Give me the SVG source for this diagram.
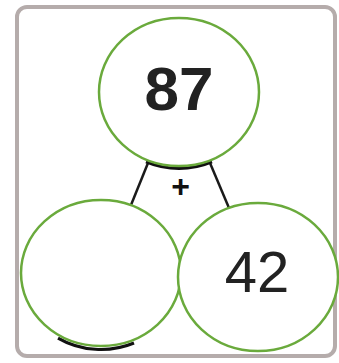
<svg xmlns="http://www.w3.org/2000/svg" width="339" height="363" viewBox="0 0 339 363">
<style>
.node{fill:#fff;stroke:#6aaa3c;stroke-width:2.5}
.shadow{fill:none;stroke:#111;stroke-width:3}
.conn{stroke:#1a1a1a;stroke-width:2.5;fill:none}
.num{font-family:"Liberation Sans",Arial,sans-serif;fill:#222;text-anchor:middle}
</style>
<rect x="0" y="0" width="339" height="363" fill="#fff"/>
<rect id="frame" x="17" y="7" width="318" height="349" rx="10" ry="10" fill="#fff" stroke="#b5acab" stroke-width="4"/>
<g id="connectors">
<line class="conn" x1="148" y1="163" x2="131" y2="205"/>
<line class="conn" x1="210" y1="163" x2="229" y2="208"/>
<path class="shadow" d="M146,161.9 A80,74 0 0 0 212,161.9"/>
<path class="shadow" d="M58,338.1 A80,73 0 0 0 134,343"/>
<text x="180.5" y="197" font-family="Liberation Sans,Arial,sans-serif" font-weight="bold" font-size="32" fill="#111" text-anchor="middle">+</text>
</g>
<g id="node-top">
<ellipse class="node" cx="179" cy="92" rx="80" ry="74"/>
<text class="num" x="179" y="110" font-size="62" font-weight="bold">87</text>
</g>
<g id="node-left">
<ellipse class="node" cx="101" cy="273" rx="80" ry="73"/>
</g>
<g id="node-right">
<ellipse class="node" cx="258" cy="277" rx="80" ry="74"/>
<text class="num" x="257" y="292" font-size="58">42</text>
</g>
</svg>
